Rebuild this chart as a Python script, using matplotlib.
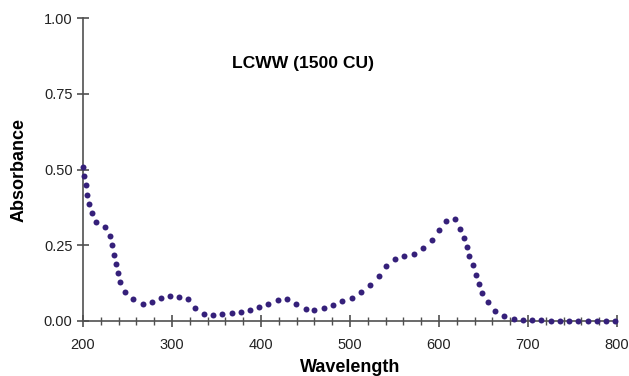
import matplotlib.pyplot as plt
from matplotlib.ticker import MultipleLocator

plt.rcParams['font.family'] = ['Liberation Sans', 'DejaVu Sans']

# Absorbance spectrum, values
wavelength = [200, 201.5, 203, 204.5, 207, 209.7, 215, 225, 230, 232, 234.5, 236.6,
              238.8, 241.9, 246.8, 256.5, 267, 277, 287.6, 297.8, 308, 318, 326, 336,
              346, 356.5, 367, 377, 387.6, 397.8, 408, 419, 429.6, 439.7, 450, 460,
              470.8, 481, 491, 501.9, 512, 522.5, 532, 540.8, 551, 561, 572, 582,
              591.8, 599.6, 607.5, 617.6, 623.6, 627.7, 631, 634, 637.8, 641.2, 644.6,
              648.7, 654.7, 663.3, 673.4, 684, 694.4, 705, 715, 725.5, 735.7, 746,
              756.5, 767, 777, 787.6, 797.8]
absorbance = [0.507, 0.478, 0.448, 0.417, 0.387, 0.356, 0.327, 0.310, 0.280, 0.250,
              0.219, 0.188, 0.158, 0.128, 0.097, 0.072, 0.055, 0.062, 0.076, 0.083,
              0.079, 0.073, 0.044, 0.022, 0.021, 0.023, 0.026, 0.030, 0.035, 0.045,
              0.057, 0.069, 0.072, 0.057, 0.041, 0.036, 0.043, 0.053, 0.065, 0.076,
              0.095, 0.120, 0.150, 0.180, 0.206, 0.215, 0.221, 0.240, 0.268, 0.299,
              0.330, 0.336, 0.305, 0.275, 0.244, 0.213, 0.184, 0.153, 0.123, 0.092,
              0.062, 0.033, 0.016, 0.008, 0.003, 0.002, 0.002, 0.001, 0.001, 0.001,
              0.001, 0.001, 0.001, 0.001, 0.001]

fig = plt.figure(figsize=(6.29, 3.76), dpi=100)
ax = fig.add_axes([0.132, 0.1463, 0.849, 0.8057])

ax.plot(wavelength, absorbance, 'o', color='#35207a', markersize=4.3, markeredgewidth=0,
        clip_on=False, zorder=3)

ax.set_xlim(200, 800)
ax.set_ylim(0, 1.0)
ax.xaxis.set_major_locator(MultipleLocator(100))
ax.xaxis.set_minor_locator(MultipleLocator(20))
ax.yaxis.set_major_locator(MultipleLocator(0.25))
ax.yaxis.set_major_formatter(plt.FormatStrFormatter('%.2f'))

for s in ['top', 'right']:
    ax.spines[s].set_visible(False)
for s in ['left', 'bottom']:
    ax.spines[s].set_color('#505050')
    ax.spines[s].set_linewidth(1.2)

ax.tick_params(which='major', direction='inout', length=9, width=1.2, color='#505050',
               labelsize=10.5, labelcolor='#222222')
ax.tick_params(axis='x', which='major', pad=8)
ax.tick_params(axis='y', which='major', pad=3)
ax.tick_params(which='minor', direction='inout', length=6, width=1.0, color='#505050')

ax.set_xlabel('Wavelength', fontsize=13, fontweight='bold', labelpad=5)
ax.set_ylabel('Absorbance', fontsize=13, fontweight='bold', labelpad=12)
ax.text(447, 0.849, 'LCWW (1500 CU)', fontsize=12.6, fontweight='bold', ha='center', va='center')

fig.savefig('out.png', dpi=100)
